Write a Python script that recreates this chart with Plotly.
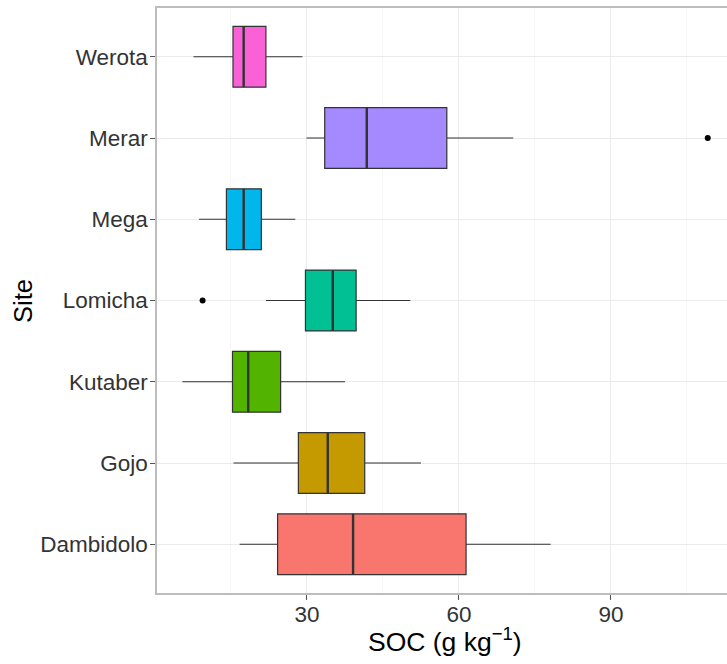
import plotly.graph_objects as go

# Data, bottom to top
sites = ["Dambidolo", "Gojo", "Kutaber", "Lomicha", "Mega", "Merar", "Werota"]
lower_whisker = [16.7, 15.5, 5.4, 21.9, 8.7, 29.9, 7.6]
q1_vals = [24.2, 28.3, 15.3, 29.7, 14.1, 33.5, 15.4]
median_vals = [39.1, 34.1, 18.4, 35.1, 17.5, 41.8, 17.5]
q3_vals = [61.4, 41.4, 24.8, 39.7, 21.0, 57.6, 21.9]
upper_whisker = [78.1, 52.5, 37.5, 50.4, 27.7, 70.7, 29.1]
outlier_site = ["Merar", "Lomicha"]
outlier_vals = [109.1, 9.4]
colors = ["#F8766D", "#C49A00", "#53B400", "#00C094", "#00B6EB", "#A58AFF", "#FB61D7"]

W, H = 727, 664
ml, mr, mt, mb = 157, 0, 8, 71
box_w = 0.75

fig = go.Figure()
pos = {s: i + 1 for i, s in enumerate(sites)}
for i, s in enumerate(sites):
    fig.add_trace(go.Box(
        orientation="h", y=[pos[s]],
        q1=[q1_vals[i]], median=[median_vals[i]], q3=[q3_vals[i]],
        lowerfence=[lower_whisker[i]], upperfence=[upper_whisker[i]],
        fillcolor=colors[i], line=dict(color="#333333", width=1.2),
        width=box_w, whiskerwidth=0, boxpoints=False, showlegend=False, name=s,
    ))
    fig.add_trace(go.Scatter(
        x=[median_vals[i], median_vals[i]],
        y=[pos[s] - box_w / 2, pos[s] + box_w / 2],
        mode="lines", line=dict(color="#333333", width=2.4),
        showlegend=False, hoverinfo="skip",
    ))

fig.add_trace(go.Scatter(
    x=outlier_vals, y=[pos[s] for s in outlier_site], mode="markers",
    marker=dict(color="black", size=6), showlegend=False,
))

font_family = "Liberation Sans, Arial, sans-serif"
fig.update_layout(
    width=W, height=H,
    margin=dict(l=ml, r=mr, t=mt, b=mb, autoexpand=False),
    plot_bgcolor="white", paper_bgcolor="white",
    font=dict(family=font_family),
    xaxis=dict(
        range=[0.4, 112.9], tickvals=[30, 60, 90], ticks="outside", ticklen=5,
        tickcolor="#555555", tickwidth=1, ticklabelstandoff=-5,
        tickfont=dict(size=22.5, color="#333333"),
        showgrid=True, gridcolor="#EBEBEB", gridwidth=1,
        minor=dict(tickvals=[15, 45, 75, 105], showgrid=True, gridcolor="#F7F7F7", gridwidth=1, ticks=""),
        showline=True, linecolor="#BDBDBD", linewidth=1.5, mirror=True,
        zeroline=False,
    ),
    yaxis=dict(
        range=[0.4, 7.6], tickvals=list(range(1, len(sites) + 1)), ticktext=sites,
        ticks="outside", ticklen=5, tickcolor="#555555", tickwidth=1,
        ticklabelstandoff=-2,
        tickfont=dict(size=22.5, color="#333333"),
        showgrid=True, gridcolor="#EBEBEB", gridwidth=1,
        showline=True, linecolor="#BDBDBD", linewidth=1.5, mirror=False,
        zeroline=False,
    ),
    annotations=[
        dict(text="SOC (g kg<sup>\u22121</sup>)", xref="paper", yref="paper",
             x=(445 - ml) / (W - ml - mr), y=-(640 - (H - mb)) / (H - mt - mb),
             showarrow=False, font=dict(size=26.5, color="black"),
             xanchor="center", yanchor="middle"),
        dict(text="Site", xref="paper", yref="paper",
             x=(23 - ml) / (W - ml - mr), y=(H - mb - 301) / (H - mt - mb),
             showarrow=False, textangle=-90, font=dict(size=25.5, color="black"),
             xanchor="center", yanchor="middle"),
    ],
)

fig.write_html("out.html")
